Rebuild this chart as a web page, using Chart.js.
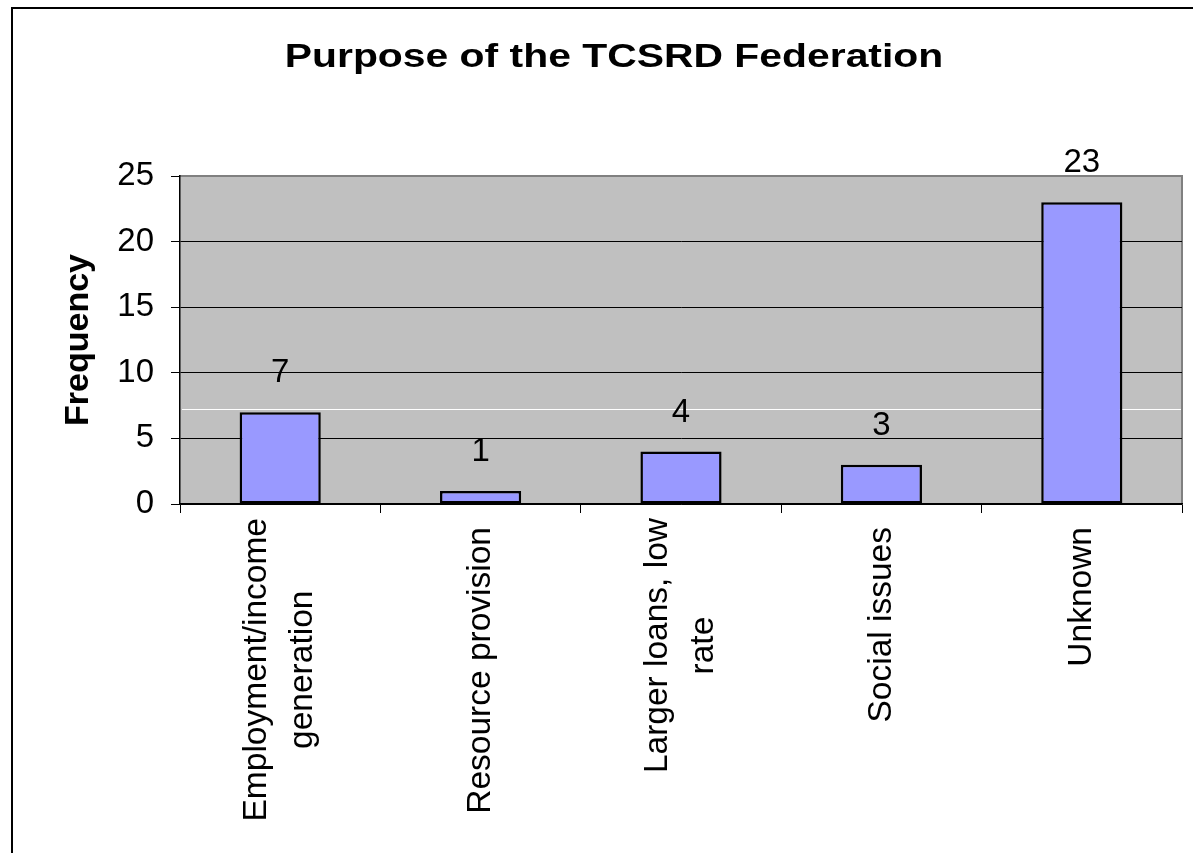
<!DOCTYPE html>
<html>
<head>
<meta charset="utf-8">
<script src="https://cdn.jsdelivr.net/npm/chart.js@4"></script>
<style>
  html, body { margin: 0; padding: 0; background: #fff; overflow: hidden; }
  #wrap { position: relative; width: 1193px; height: 853px; }
  #frame { position: absolute; left: 11px; top: 7px; width: 1200px; height: 900px; border: 2px solid #000; }
  canvas { position: absolute; left: 0; top: 0; }
</style>
</head>
<body>
<div id="wrap">
  <div id="frame"></div>
  <canvas id="chart" width="1193" height="853"></canvas>
</div>
<script>
  var title = "Purpose of the TCSRD Federation";
  var categories = [
    ["Employment/income", "generation"],
    "Resource provision",
    ["Larger loans, low", "rate"],
    "Social issues",
    "Unknown"
  ];
  var frequency = [7, 1, 4, 3, 23];
  var yTicks = [0, 5, 10, 15, 20, 25];

  var font = "'Liberation Sans', Arial, sans-serif";

  // gray plot area with gray top/right edge
  const plotBg = {
    id: "plotBg",
    beforeDraw(chart) {
      const a = chart.chartArea, ctx = chart.ctx;
      ctx.save();
      ctx.fillStyle = "#c0c0c0";
      ctx.fillRect(a.left, a.top, a.right - a.left, a.bottom - a.top);
      ctx.strokeStyle = "#808080";
      ctx.lineWidth = 2;
      ctx.beginPath();
      ctx.moveTo(a.left, a.top);
      ctx.lineTo(a.right, a.top);
      ctx.lineTo(a.right, a.bottom);
      ctx.stroke();
      ctx.restore();
    },
    beforeDatasetsDraw(chart) {
      // faint white line seen in the source picture
      const a = chart.chartArea, ctx = chart.ctx;
      const y = Math.round(chart.scales.y.getPixelForValue(7.23)) + 0.5;
      ctx.save();
      ctx.strokeStyle = "#ffffff";
      ctx.lineWidth = 1;
      ctx.beginPath();
      ctx.moveTo(a.left + 2, y);
      ctx.lineTo(a.right - 1, y);
      ctx.stroke();
      ctx.restore();
    }
  };

  // title (stretched wide like the original) + rotated category labels + value labels
  const texts = {
    id: "texts",
    afterDraw(chart) {
      const ctx = chart.ctx;
      const xs = chart.scales.x;
      ctx.save();
      ctx.fillStyle = "#000";

      // title
      ctx.save();
      ctx.font = "bold 33.5px " + font;
      ctx.textAlign = "center";
      ctx.textBaseline = "alphabetic";
      ctx.translate(614, 67);
      ctx.scale(1.22, 1);
      ctx.fillText(title, 0, 0);
      ctx.restore();

      // category labels
      ctx.font = "33.5px " + font;
      categories.forEach((lab, i) => {
        const lines = Array.isArray(lab) ? lab : [lab];
        const x = xs.getPixelForValue(i);
        const top = xs.top + (lines.length > 1 ? 14 : 23);
        const w = Math.max(...lines.map(l => ctx.measureText(l).width));
        ctx.save();
        ctx.translate(x, top + w / 2);
        ctx.rotate(-Math.PI / 2);
        ctx.textAlign = "center";
        ctx.textBaseline = "middle";
        lines.forEach((l, j) => ctx.fillText(l, 0, (j - (lines.length - 1) / 2) * 46));
        ctx.restore();
      });

      // values above bars
      ctx.font = "33px " + font;
      ctx.textAlign = "center";
      ctx.textBaseline = "alphabetic";
      chart.getDatasetMeta(0).data.forEach((bar, i) => {
        ctx.fillText(frequency[i], bar.x, bar.y - 30);
      });
      ctx.restore();
    }
  };

  new Chart(document.getElementById("chart"), {
    type: "bar",
    data: {
      labels: categories,
      datasets: [{
        data: frequency,
        backgroundColor: "#9999ff",
        borderColor: "#000",
        borderWidth: 2.5,
        borderSkipped: false,
        categoryPercentage: 1,
        barPercentage: 0.405
      }]
    },
    options: {
      responsive: false,
      animation: false,
      layout: { padding: { right: 11, top: 176, left: 0, bottom: 0 } },
      plugins: {
        legend: { display: false },
        tooltip: { enabled: false },
        title: { display: false }
      },
      scales: {
        x: {
          afterFit(scale) { scale.height = 349; },
          grid: {
            offset: true,
            drawOnChartArea: false,
            drawTicks: true,
            tickLength: 9,
            color: "#000",
            lineWidth: 1
          },
          border: { color: "#000", width: 1.5 },
          ticks: { display: false }
        },
        y: {
          min: 0,
          max: 25,
          afterFit(scale) { scale.width = 180; },
          afterBuildTicks(scale) { scale.ticks = yTicks.map(v => ({ value: v })); },
          grid: {
            color: ctx => (ctx.tick && ctx.tick.value === 25 ? "#808080" : "#000"),
            tickColor: "#000",
            tickLength: 9,
            lineWidth: 1
          },
          border: { color: "#000", width: 1.5 },
          ticks: {
            padding: 17,
            color: "#000",
            font: { family: font, size: 33 }
          },
          title: {
            display: true,
            text: "Frequency",
            color: "#000",
            font: { family: font, size: 34, weight: "bold" },
            padding: { top: 58, bottom: 0 }
          }
        }
      }
    },
    plugins: [plotBg, texts]
  });
</script>
</body>
</html>
